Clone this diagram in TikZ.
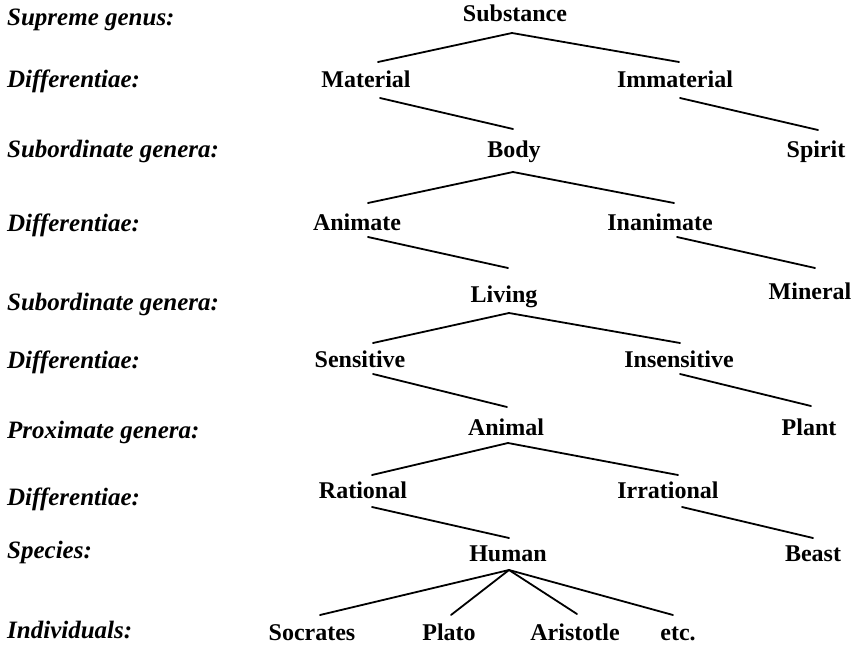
\documentclass[tikz,border=0pt]{standalone}
\usepackage{fontspec}
\setmainfont{Liberation Serif}
\usetikzlibrary{calc}
\begin{document}
\begin{tikzpicture}[x=1pt,y=-1pt,
  term/.style={inner sep=0pt,anchor=base,font=\fontsize{24}{28}\selectfont\bfseries},
  lvl/.style={inner sep=0pt,anchor=base west,font=\fontsize{25}{29}\selectfont\bfseries\itshape},
  link/.style={line width=1.8pt,line cap=round}]
\useasboundingbox[fill=white] (0,0) rectangle (855,645);
% level labels
\node[lvl] (L1) at (7,25) {Supreme genus:};
\node[lvl] (L2) at (7,87) {Differentiae:};
\node[lvl] (L3) at (7,157) {Subordinate genera:};
\node[lvl] (L4) at (7,231) {Differentiae:};
\node[lvl] (L5) at (7,310) {Subordinate genera:};
\node[lvl] (L6) at (7,368) {Differentiae:};
\node[lvl] (L7) at (7,438) {Proximate genera:};
\node[lvl] (L8) at (7,505) {Differentiae:};
\node[lvl] (L9) at (7,558) {Species:};
\node[lvl] (L10) at (7,638) {Individuals:};
% tree terms
\node[term] (Sub) at (515,21) {Substance};
\node[term] (Mat) at (366,87) {Material};
\node[term] (Imm) at (675,87) {Immaterial};
\node[term] (Body) at (514,157) {Body};
\node[term] (Spi) at (816,157) {Spirit};
\node[term] (Ani) at (357,230) {Animate};
\node[term] (Ina) at (660,230) {Inanimate};
\node[term] (Liv) at (504,302) {Living};
\node[term] (Min) at (810,299) {Mineral};
\node[term] (Sen) at (360,367) {Sensitive};
\node[term] (Ins) at (679,367) {Insensitive};
\node[term] (Anl) at (506,435) {Animal};
\node[term] (Pla) at (809,435) {Plant};
\node[term] (Rat) at (363,498) {Rational};
\node[term] (Irr) at (668,498) {Irrational};
\node[term] (Hum) at (508,561) {Human};
\node[term] (Bea) at (813,561) {Beast};
\node[term] (Soc) at (312,640) {Socrates};
\node[term] (Plo) at (449,640) {Plato};
\node[term] (Ari) at (575,640) {Aristotle};
\node[term] (Etc) at (678,640) {etc.};
% connectors
\draw[link] ($(Sub.base)+(-3,12)$) -- ($(Mat.base)+(12,-25)$);
\draw[link] ($(Sub.base)+(-3,12)$) -- ($(Imm.base)+(4,-25)$);
\draw[link] ($(Mat.base)+(14,11)$) -- ($(Body.base)+(-1,-28)$);
\draw[link] ($(Imm.base)+(5,11)$) -- ($(Spi.base)+(2,-27)$);
\draw[link] ($(Body.base)+(-1,15)$) -- ($(Ani.base)+(11,-27)$);
\draw[link] ($(Body.base)+(-1,15)$) -- ($(Ina.base)+(14,-27)$);
\draw[link] ($(Ani.base)+(11,7)$) -- ($(Liv.base)+(4,-34)$);
\draw[link] ($(Ina.base)+(17,7)$) -- ($(Min.base)+(5,-31)$);
\draw[link] ($(Liv.base)+(5,11)$) -- ($(Sen.base)+(13,-24)$);
\draw[link] ($(Liv.base)+(5,11)$) -- ($(Ins.base)+(1,-24)$);
\draw[link] ($(Sen.base)+(13,7)$) -- ($(Anl.base)+(1,-28)$);
\draw[link] ($(Ins.base)+(1,7)$) -- ($(Pla.base)+(2,-29)$);
\draw[link] ($(Anl.base)+(2,8)$) -- ($(Rat.base)+(9,-23)$);
\draw[link] ($(Anl.base)+(2,8)$) -- ($(Irr.base)+(10,-23)$);
\draw[link] ($(Rat.base)+(9,9)$) -- ($(Hum.base)+(1,-23)$);
\draw[link] ($(Irr.base)+(14,9)$) -- ($(Bea.base)+(0,-23)$);
\draw[link] ($(Hum.base)+(1,9)$) -- ($(Soc.base)+(8,-25)$);
\draw[link] ($(Hum.base)+(1,9)$) -- ($(Plo.base)+(2,-25)$);
\draw[link] ($(Hum.base)+(1,9)$) -- ($(Ari.base)+(2,-26)$);
\draw[link] ($(Hum.base)+(1,9)$) -- ($(Etc.base)+(-5,-25)$);
\end{tikzpicture}
\end{document}
